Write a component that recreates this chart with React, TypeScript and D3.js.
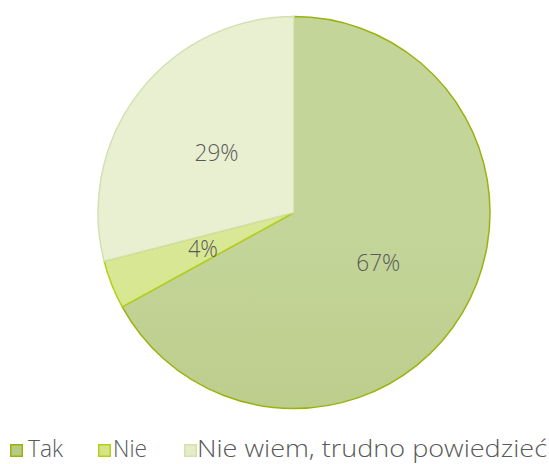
import React from "react";
import * as d3 from "d3";

const categories = ["Tak", "Nie", "Nie wiem, trudno powiedzieć"];
const values = [67, 4, 29];
const labels = ["67%", "4%", "29%"];

const fillsTop = ["#c4d59a", "#d9e896", "#e9f0d2"];
const fillsBottom = ["#b3c57c", "#cfe07a", "#e1eac2"];
const strokes = ["#9ab20e", "#b4cf1a", "#d4e0b0"];
const legendFill = ["#b9ca86", "#d4e586", "#e4ecc8"];

const W = 549, H = 464;
const cx = 294, cy = 212.5, R = 196;
const FONT = "'Open Sans', 'Noto Sans', sans-serif";

export default function App() {
  const pie = d3.pie<number>().sort(null).value((d) => d)(values);
  const arc = d3.arc<d3.PieArcDatum<number>>().innerRadius(0).outerRadius(R);
  const labelArc = d3.arc<d3.PieArcDatum<number>>().innerRadius(R * 0.5).outerRadius(R * 0.5);
  const legendX = [10, 98, 184];
  const textX = [28, 113, 197];
  const textW = [35, 34, 350];
  const labelW = [44, 30, 44];
  return (
    <svg width={W} height={H} style={{ position: "absolute", left: 0, top: 0 }}>
      <defs>
        {categories.map((c, i) => (
          <linearGradient key={c} id={`g${i}`} gradientUnits="userSpaceOnUse" x1={0} y1={cy - R} x2={0} y2={cy + R}>
            <stop offset="0" stopColor={fillsTop[i]} />
            <stop offset="1" stopColor={fillsBottom[i]} />
          </linearGradient>
        ))}
      </defs>
      <g transform={`translate(${cx},${cy})`}>
        {pie.map((p, i) => (
          <path key={i} d={arc(p) || ""} fill={`url(#g${i})`} stroke={strokes[i]} strokeWidth={1.5} strokeLinejoin="round" />
        ))}
        {pie.map((p, i) => {
          const [x, y] = labelArc.centroid(p);
          return (
            <text key={i} x={x} y={y} dy="0.36em" textAnchor="middle" fontFamily={FONT} fontWeight={300} fontSize={23} fill="#595959" textLength={labelW[i]} lengthAdjust="spacingAndGlyphs">
              {labels[i]}
            </text>
          );
        })}
      </g>
      {categories.map((c, i) => (
        <g key={c}>
          <rect x={legendX[i] + 0.75} y={444.75} width={11.5} height={11.5} fill={legendFill[i]} stroke={strokes[i]} strokeWidth={1.5} />
          <text x={textX[i]} y={457} fontFamily={FONT} fontWeight={300} fontSize={23} fill="#595959" textLength={textW[i]} lengthAdjust="spacingAndGlyphs">
            {c}
          </text>
        </g>
      ))}
    </svg>
  );
}
